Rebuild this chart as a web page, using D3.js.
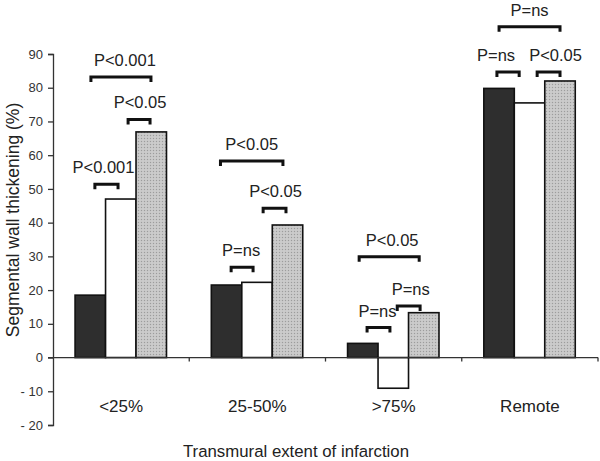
<!DOCTYPE html>
<html>
<head>
<meta charset="utf-8">
<script src="https://cdn.jsdelivr.net/npm/d3@7"></script>
<style>
  body { margin: 0; background: #fff; }
  svg { display: block; font-family: "Liberation Sans", Arial, sans-serif; }
</style>
</head>
<body>
<div id="chart-area"></div>
<script>
// bar chart: segmental wall thickening by transmural extent
const WIDTH = 600
const HEIGHT = 461
const MARGIN = { LEFT: 53, RIGHT: 2, TOP: 54, BOTTOM: 36 }

const categories = ["<25%", "25-50%", ">75%", "Remote"]
const darkValues = [18.5, 21.5, 4.2, 79.8]
const whiteValues = [47, 22.3, -9.1, 75.5]
const grayValues = [66.9, 39.3, 13.3, 82]
const yTicks = [-20, -10, 0, 10, 20, 30, 40, 50, 60, 70, 80, 90]

// significance brackets (category index, from/to in bar units, level in %)
const bracketCategory = [0, 0, 0, 1, 1, 1, 2, 2, 2, 3, 3, 3]
const bracketFrom = [0.65, 1.74, 0.52, 0.65, 1.7, 0.3, 0.64, 1.63, 0.38, 0.43, 1.75, 0.5]
const bracketTo = [1.41, 2.46, 2.49, 1.37, 2.45, 2.35, 1.39, 2.38, 2.35, 1.16, 2.5, 2.5]
const bracketLevel = [51.4, 70.6, 83.2, 26.8, 44.3, 58.3, 8.9, 15.3, 29.9, 84.7, 84.7, 98.1]
const bracketLabel = ["P<0.001", "P<0.05", "P<0.001", "P=ns", "P<0.05", "P<0.05",
                      "P=ns", "P=ns", "P<0.05", "P=ns", "P<0.05", "P=ns"]
const labelNudge = [-3, 1, 4, -1, 1, 0, -1, 2, 3, -12, 7, 0]

const series = [darkValues, whiteValues, grayValues]
const fills = ["#2e2e2e", "#ffffff", "url(#dots)"]

const svg = d3.select("#chart-area")
  .append("svg")
  .attr("width", WIDTH)
  .attr("height", HEIGHT)

const defs = svg.append("defs")
const pat = defs.append("pattern")
  .attr("id", "dots")
  .attr("width", 3)
  .attr("height", 3)
  .attr("patternUnits", "userSpaceOnUse")
pat.append("rect").attr("width", 3).attr("height", 3).attr("fill", "#c6c6c6")
pat.append("rect").attr("width", 1).attr("height", 1).attr("fill", "#9c9c9c")
pat.append("rect").attr("x", 1.5).attr("y", 1.5).attr("width", 1).attr("height", 1).attr("fill", "#dadada")

const x0 = d3.scaleBand()
  .domain(categories)
  .range([MARGIN.LEFT, WIDTH - MARGIN.RIGHT])

const bw = x0.bandwidth()
const x1 = d3.scaleBand()
  .domain([0, 1, 2])
  .range([bw * 0.162, bw * 0.833])

const y = d3.scaleLinear()
  .domain([-20, 90])
  .range([HEIGHT - MARGIN.BOTTOM, MARGIN.TOP])

// bars
const rows = []
categories.forEach((c, i) => {
  series.forEach((s, j) => rows.push({ cat: c, grp: j, val: s[i] }))
})

svg.append("g").selectAll("rect")
  .data(rows)
  .enter()
  .append("rect")
  .attr("x", d => x0(d.cat) + x1(d.grp))
  .attr("width", x1.bandwidth())
  .attr("y", d => y(Math.max(0, d.val)))
  .attr("height", d => Math.abs(y(d.val) - y(0)))
  .attr("fill", d => fills[d.grp])
  .attr("stroke", "#111")
  .attr("stroke-width", 1.6)

// y axis
const yAxis = svg.append("g")
  .attr("transform", `translate(${MARGIN.LEFT},0)`)
  .call(d3.axisLeft(y).tickValues(yTicks).tickSize(5).tickPadding(5))
yAxis.select(".domain").attr("stroke", "#333").attr("stroke-width", 1.3)
yAxis.selectAll(".tick line").attr("stroke", "#333").attr("stroke-width", 1.3)
yAxis.selectAll(".tick text")
  .attr("font-size", 13)
  .attr("fill", "#333")
  .style("font-family", "Liberation Sans, Arial, sans-serif")
  .text(d => d < 0 ? "- " + Math.abs(d) : d)

// x axis on zero line
const xAxis = svg.append("g")
  .attr("transform", `translate(0,${y(0)})`)
xAxis.append("line")
  .attr("x1", MARGIN.LEFT - 5)
  .attr("x2", WIDTH - MARGIN.RIGHT)
  .attr("stroke", "#333")
  .attr("stroke-width", 1.3)
xAxis.selectAll("line.tk")
  .data(categories)
  .enter()
  .append("line")
  .attr("class", "tk")
  .attr("x1", d => x0(d) + bw)
  .attr("x2", d => x0(d) + bw)
  .attr("y1", 0)
  .attr("y2", 4)
  .attr("stroke", "#333")
  .attr("stroke-width", 1.3)

svg.append("g").selectAll("text")
  .data(categories)
  .enter()
  .append("text")
  .attr("x", d => x0(d) + bw / 2)
  .attr("y", 412)
  .attr("text-anchor", "middle")
  .attr("font-size", 17)
  .attr("fill", "#222")
  .text(d => d)

// axis titles
svg.append("text")
  .attr("x", 296)
  .attr("y", 457)
  .attr("text-anchor", "middle")
  .attr("font-size", 16.8)
  .attr("fill", "#222")
  .text("Transmural extent of infarction")

svg.append("text")
  .attr("transform", `translate(19,220) rotate(-90)`)
  .attr("text-anchor", "middle")
  .attr("font-size", 17.5)
  .attr("fill", "#222")
  .text("Segmental wall thickening (%)")

// brackets
const bx = (i, u) => x0(categories[bracketCategory[i]]) + x1.range()[0] + u * x1.bandwidth()
const br = svg.append("g")
bracketLabel.forEach((lab, i) => {
  const a = bx(i, bracketFrom[i])
  const b = bx(i, bracketTo[i])
  const yy = y(bracketLevel[i])
  br.append("path")
    .attr("d", `M${a},${yy + 5}V${yy}H${b}V${yy + 5}`)
    .attr("fill", "none")
    .attr("stroke", "#111")
    .attr("stroke-width", 3)
  br.append("text")
    .attr("x", (a + b) / 2 + labelNudge[i])
    .attr("y", yy - 11)
    .attr("text-anchor", "middle")
    .attr("font-size", 16.5)
    .attr("fill", "#222")
    .text(lab)
})
</script>
</body>
</html>
